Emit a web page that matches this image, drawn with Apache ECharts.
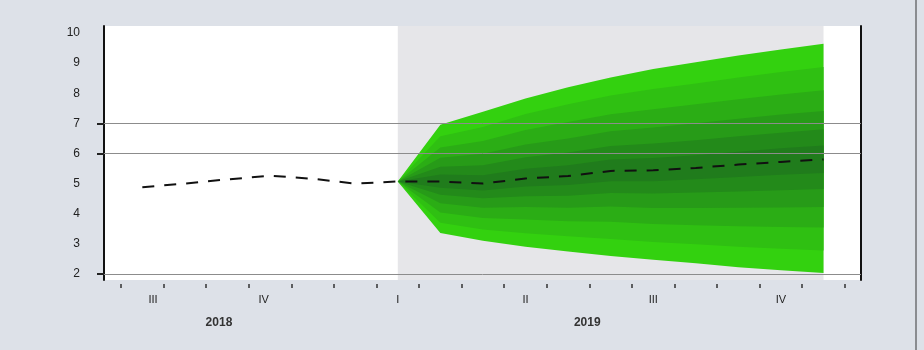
<!DOCTYPE html>
<html><head><meta charset="utf-8">
<script src="https://cdn.jsdelivr.net/npm/echarts@6/dist/echarts.min.js"></script>
<style>html,body{margin:0;padding:0;background:#dde1e8}#c{width:924px;height:350px}</style>
</head><body><div id="c"></div>
<script>
// month index: 0 = January 2019
const months = [-6,-5,-4,-3,-2,-1,0,1,2,3,4,5,6,7,8,9,10];
const centralLine = [4.88,5.0,5.14,5.26,5.16,5.0,5.07,5.07,5.0,5.17,5.25,5.42,5.44,5.52,5.63,5.72,5.8];
const fanMonths = [0,1,2,3,4,5,6,7,8,9,10];
const upper1 = [5.07,6.95,7.38,7.82,8.20,8.52,8.80,9.03,9.25,9.45,9.64];
const lower1 = [5.07,3.36,3.10,2.90,2.75,2.60,2.47,2.36,2.22,2.12,2.03];
const upper2 = [5.07,6.57,6.88,7.31,7.63,7.92,8.14,8.32,8.52,8.70,8.87];
const lower2 = [5.07,3.70,3.48,3.35,3.25,3.16,3.06,2.99,2.90,2.84,2.78];
const upper3 = [5.07,6.20,6.41,6.78,7.04,7.30,7.47,7.63,7.80,7.96,8.10];
const lower3 = [5.07,4.04,3.86,3.81,3.75,3.73,3.66,3.62,3.58,3.56,3.54];
const upper4 = [5.07,5.86,5.99,6.30,6.50,6.74,6.86,7.00,7.15,7.29,7.41];
const lower4 = [5.07,4.35,4.20,4.22,4.20,4.24,4.19,4.19,4.20,4.21,4.22];
const upper5 = [5.07,5.56,5.61,5.87,6.03,6.25,6.33,6.44,6.57,6.69,6.80];
const lower5 = [5.07,4.63,4.51,4.58,4.60,4.69,4.67,4.70,4.74,4.78,4.82];
const upper6 = [5.07,5.30,5.28,5.49,5.61,5.80,5.85,5.94,6.06,6.17,6.26];
const lower6 = [5.07,4.86,4.77,4.90,4.95,5.08,5.08,5.14,5.22,5.29,5.35];
const forecastStart = 0;
const forecastEnd = 10;
const yTickLabels = [2,3,4,5,6,7,8,9,10];
const gridLineValues = [2,6,7];
const quarterLabels = ['III','IV','I','II','III','IV'];
const quarterPos = [-5.75,-3.15,0,3,6,9];
const yearLabels = ['2018','2019'];
const yearPos = [-4.2,4.45];
const monthBoundaries = [-6.5,-5.5,-4.5,-3.5,-2.5,-1.5,-0.5,0.5,1.5,2.5,3.5,4.5,5.5,6.5,7.5,8.5,9.5,10.5];

const bandColors = ['#33d10f','#2fc012','#2bad15','#279b18','#238a1a','#207c1c'];
const uppers = [upper1,upper2,upper3,upper4,upper5,upper6];
const lowers = [lower1,lower2,lower3,lower4,lower5,lower6];

function nearestLabel(v, pos, labels){
  let bi = 0, bd = Infinity;
  pos.forEach((p,i)=>{const d=Math.abs(p-v); if(d<bd){bd=d;bi=i;}});
  return labels[bi];
}

const series = [{
  type:'line', z:1, silent:true, symbol:'none',
  data:[[forecastStart,5]], lineStyle:{opacity:0},
  markArea:{silent:true, itemStyle:{color:'#e6e6e9'}, data:[[{xAxis:forecastStart},{xAxis:forecastEnd}]]},
  markLine:{silent:true, symbol:'none', label:{show:false},
    lineStyle:{color:'#8c8c8c', width:1, type:'solid'},
    data: gridLineValues.map(v=>({yAxis:v}))}
}];
uppers.forEach((up,k)=>{
  const lo = lowers[k];
  series.push({
    type:'custom', z:3, silent:true,
    data: [[fanMonths[0], up[0]]],
    renderItem:(params, api)=>{
      const pts = [];
      fanMonths.forEach((m,i)=>pts.push(api.coord([m, up[i]])));
      for (let i = fanMonths.length-1; i>=0; i--) pts.push(api.coord([fanMonths[i], lo[i]]));
      return {type:'polygon', shape:{points:pts}, style:{fill:bandColors[k]}};
    }
  });
});
series.push({type:'line', z:10, silent:true, symbol:'none',
  data: months.map((m,i)=>[m, centralLine[i]]),
  lineStyle:{color:'#111', width:2, type:[12,10]}});

const labelFont = {fontFamily:'Liberation Sans', fontSize:11, color:'#222'};
const chart = echarts.init(document.getElementById('c'));
chart.setOption({
  backgroundColor:'#dde1e8',
  animation:false,
  grid:{left:104, right:63, top:26, bottom:70, show:true, backgroundColor:'#ffffff', borderWidth:0},
  xAxis:[{
    type:'value', min:-6.9, max:10.88, offset:4,
    axisLine:{show:false, onZero:false}, splitLine:{show:false},
    axisTick:{show:true, customValues:monthBoundaries, length:4, lineStyle:{color:'#333', width:1.5}},
    axisLabel:Object.assign({customValues:quarterPos, margin:10,
      formatter:v=>nearestLabel(v, quarterPos, quarterLabels)}, labelFont)
  },{
    type:'value', min:-6.9, max:10.88, position:'bottom', offset:29,
    axisLine:{show:false, onZero:false}, splitLine:{show:false}, axisTick:{show:false},
    axisLabel:Object.assign({customValues:yearPos, margin:8,
      formatter:v=>nearestLabel(v, yearPos, yearLabels)}, labelFont, {fontSize:12, fontWeight:'bold', color:'#333'})
  }],
  yAxis:[{
    type:'value', min:1.8, max:10.23, position:'left',
    axisLine:{show:true, onZero:false, lineStyle:{color:'#111', width:2}},
    splitLine:{show:false},
    axisTick:{show:true, customValues:gridLineValues, length:7, lineStyle:{color:'#222', width:2}},
    axisLabel:Object.assign({customValues:yTickLabels, margin:24}, labelFont, {fontSize:12})
  },{
    type:'value', min:1.8, max:10.23, position:'right',
    axisLine:{show:true, onZero:false, lineStyle:{color:'#111', width:2}},
    splitLine:{show:false}, axisTick:{show:false}, axisLabel:{show:false}
  }],
  graphic:[{type:'rect', shape:{x:915, y:0, width:2, height:350}, style:{fill:'#8a8c90'}}],
  series: series
});
</script></body></html>
